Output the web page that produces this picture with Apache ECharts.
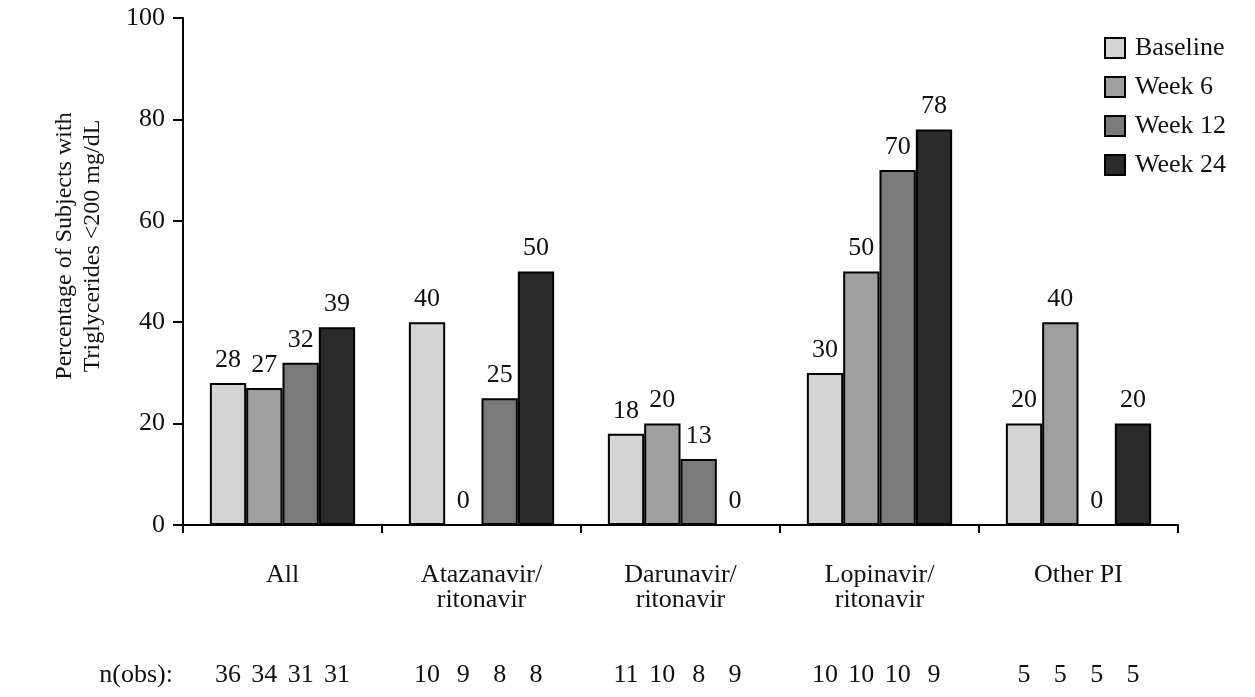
<!DOCTYPE html>
<html>
<head>
<meta charset="utf-8">
<script src="https://cdn.jsdelivr.net/npm/echarts@6/dist/echarts.min.js"></script>
<style>
  html, body { margin: 0; padding: 0; background: #fff; }
  #chart { width: 1255px; height: 697px; }
</style>
</head>
<body>
<div id="chart"></div>
<script>
const categories = ['All', 'Atazanavir/\nritonavir', 'Darunavir/\nritonavir', 'Lopinavir/\nritonavir', 'Other PI'];
const seriesNames = ['Baseline', 'Week 6', 'Week 12', 'Week 24'];
const baseline = [28, 40, 18, 30, 20];
const week6 = [27, 0, 20, 50, 40];
const week12 = [32, 25, 13, 70, 0];
const week24 = [39, 50, 0, 78, 20];
const nBaseline = [36, 10, 11, 10, 5];
const nWeek6 = [34, 9, 10, 10, 5];
const nWeek12 = [31, 8, 8, 10, 5];
const nWeek24 = [31, 8, 9, 9, 5];
const yTicks = [0, 20, 40, 60, 80, 100];

const colors = ['#d4d4d4', '#9f9f9f', '#7a7a7a', '#2a2a2a'];
const FONT = 'Liberation Serif';
const FS = 26;
const CAT_GAP = 0.27;

const values = [baseline, week6, week12, week24];
const nObs = [nBaseline, nWeek6, nWeek12, nWeek24];

const chart = echarts.init(document.getElementById('chart'));

const barSeries = seriesNames.map((name, i) => ({
  name: name,
  type: 'bar',
  data: values[i],
  barGap: '0%',
  barCategoryGap: (CAT_GAP * 100) + '%',
  itemStyle: { color: colors[i], borderColor: '#000', borderWidth: 2 },
  label: {
    show: true,
    position: 'top',
    distance: 10,
    fontFamily: FONT,
    fontSize: FS,
    color: '#111'
  },
  emphasis: { disabled: true }
}));

// n(obs) counts drawn under each bar
const nData = [];
nObs.forEach((arr, s) => arr.forEach((n, c) => nData.push([c, s, n])));

const nSeries = {
  type: 'custom',
  silent: true,
  data: nData,
  renderItem: function (params, api) {
    const p = api.coord([api.value(0), 0]);
    const catW = api.size([1, 0])[0];
    const barW = catW * (1 - CAT_GAP) / 4;
    return {
      type: 'text',
      style: {
        text: String(api.value(2)),
        x: p[0] + (api.value(1) - 1.5) * barW,
        y: p[1] + 150,
        align: 'center',
        verticalAlign: 'middle',
        font: FS + 'px "' + FONT + '"',
        fill: '#111'
      }
    };
  }
};

const option = {
  animation: false,
  backgroundColor: '#fff',
  grid: { left: 183, right: 77, top: 18, bottom: 172 },
  legend: {
    data: seriesNames,
    orient: 'vertical',
    left: 1099,
    top: 30,
    icon: 'rect',
    itemWidth: 20,
    itemHeight: 20,
    itemGap: 13,
    itemStyle: { borderColor: '#000', borderWidth: 2 },
    textStyle: { fontFamily: FONT, fontSize: FS, color: '#111', padding: [0, 0, 0, 5] },
    selectedMode: false
  },
  xAxis: {
    type: 'category',
    data: categories,
    axisLine: { lineStyle: { color: '#000', width: 2 } },
    axisTick: { show: true, length: 8, lineStyle: { color: '#000', width: 2 } },
    axisLabel: {
      interval: 0,
      margin: 38,
      fontFamily: FONT,
      fontSize: FS,
      lineHeight: 25,
      color: '#111'
    }
  },
  yAxis: {
    type: 'value',
    min: 0,
    max: 100,
    interval: 20,
    axisLine: { show: true, lineStyle: { color: '#000', width: 2 } },
    axisTick: { show: true, length: 10, lineStyle: { color: '#000', width: 2 } },
    splitLine: { show: false },
    axisLabel: {
      margin: 18,
      fontFamily: FONT,
      fontSize: FS,
      color: '#111',
      formatter: v => yTicks.includes(v) ? String(v) : ''
    }
  },
  graphic: [
    {
      type: 'text',
      x: 79,
      y: 246,
      rotation: Math.PI / 2,
      style: {
        text: 'Percentage of Subjects with\nTriglycerides <200 mg/dL',
        align: 'center',
        verticalAlign: 'middle',
        font: '24px "' + FONT + '"',
        lineHeight: 28,
        fill: '#111'
      }
    },
    {
      type: 'text',
      x: 173,
      y: 675,
      style: {
        text: 'n(obs):',
        align: 'right',
        verticalAlign: 'middle',
        font: FS + 'px "' + FONT + '"',
        fill: '#111'
      }
    }
  ],
  series: barSeries.concat([nSeries])
};

chart.setOption(option);
</script>
</body>
</html>
